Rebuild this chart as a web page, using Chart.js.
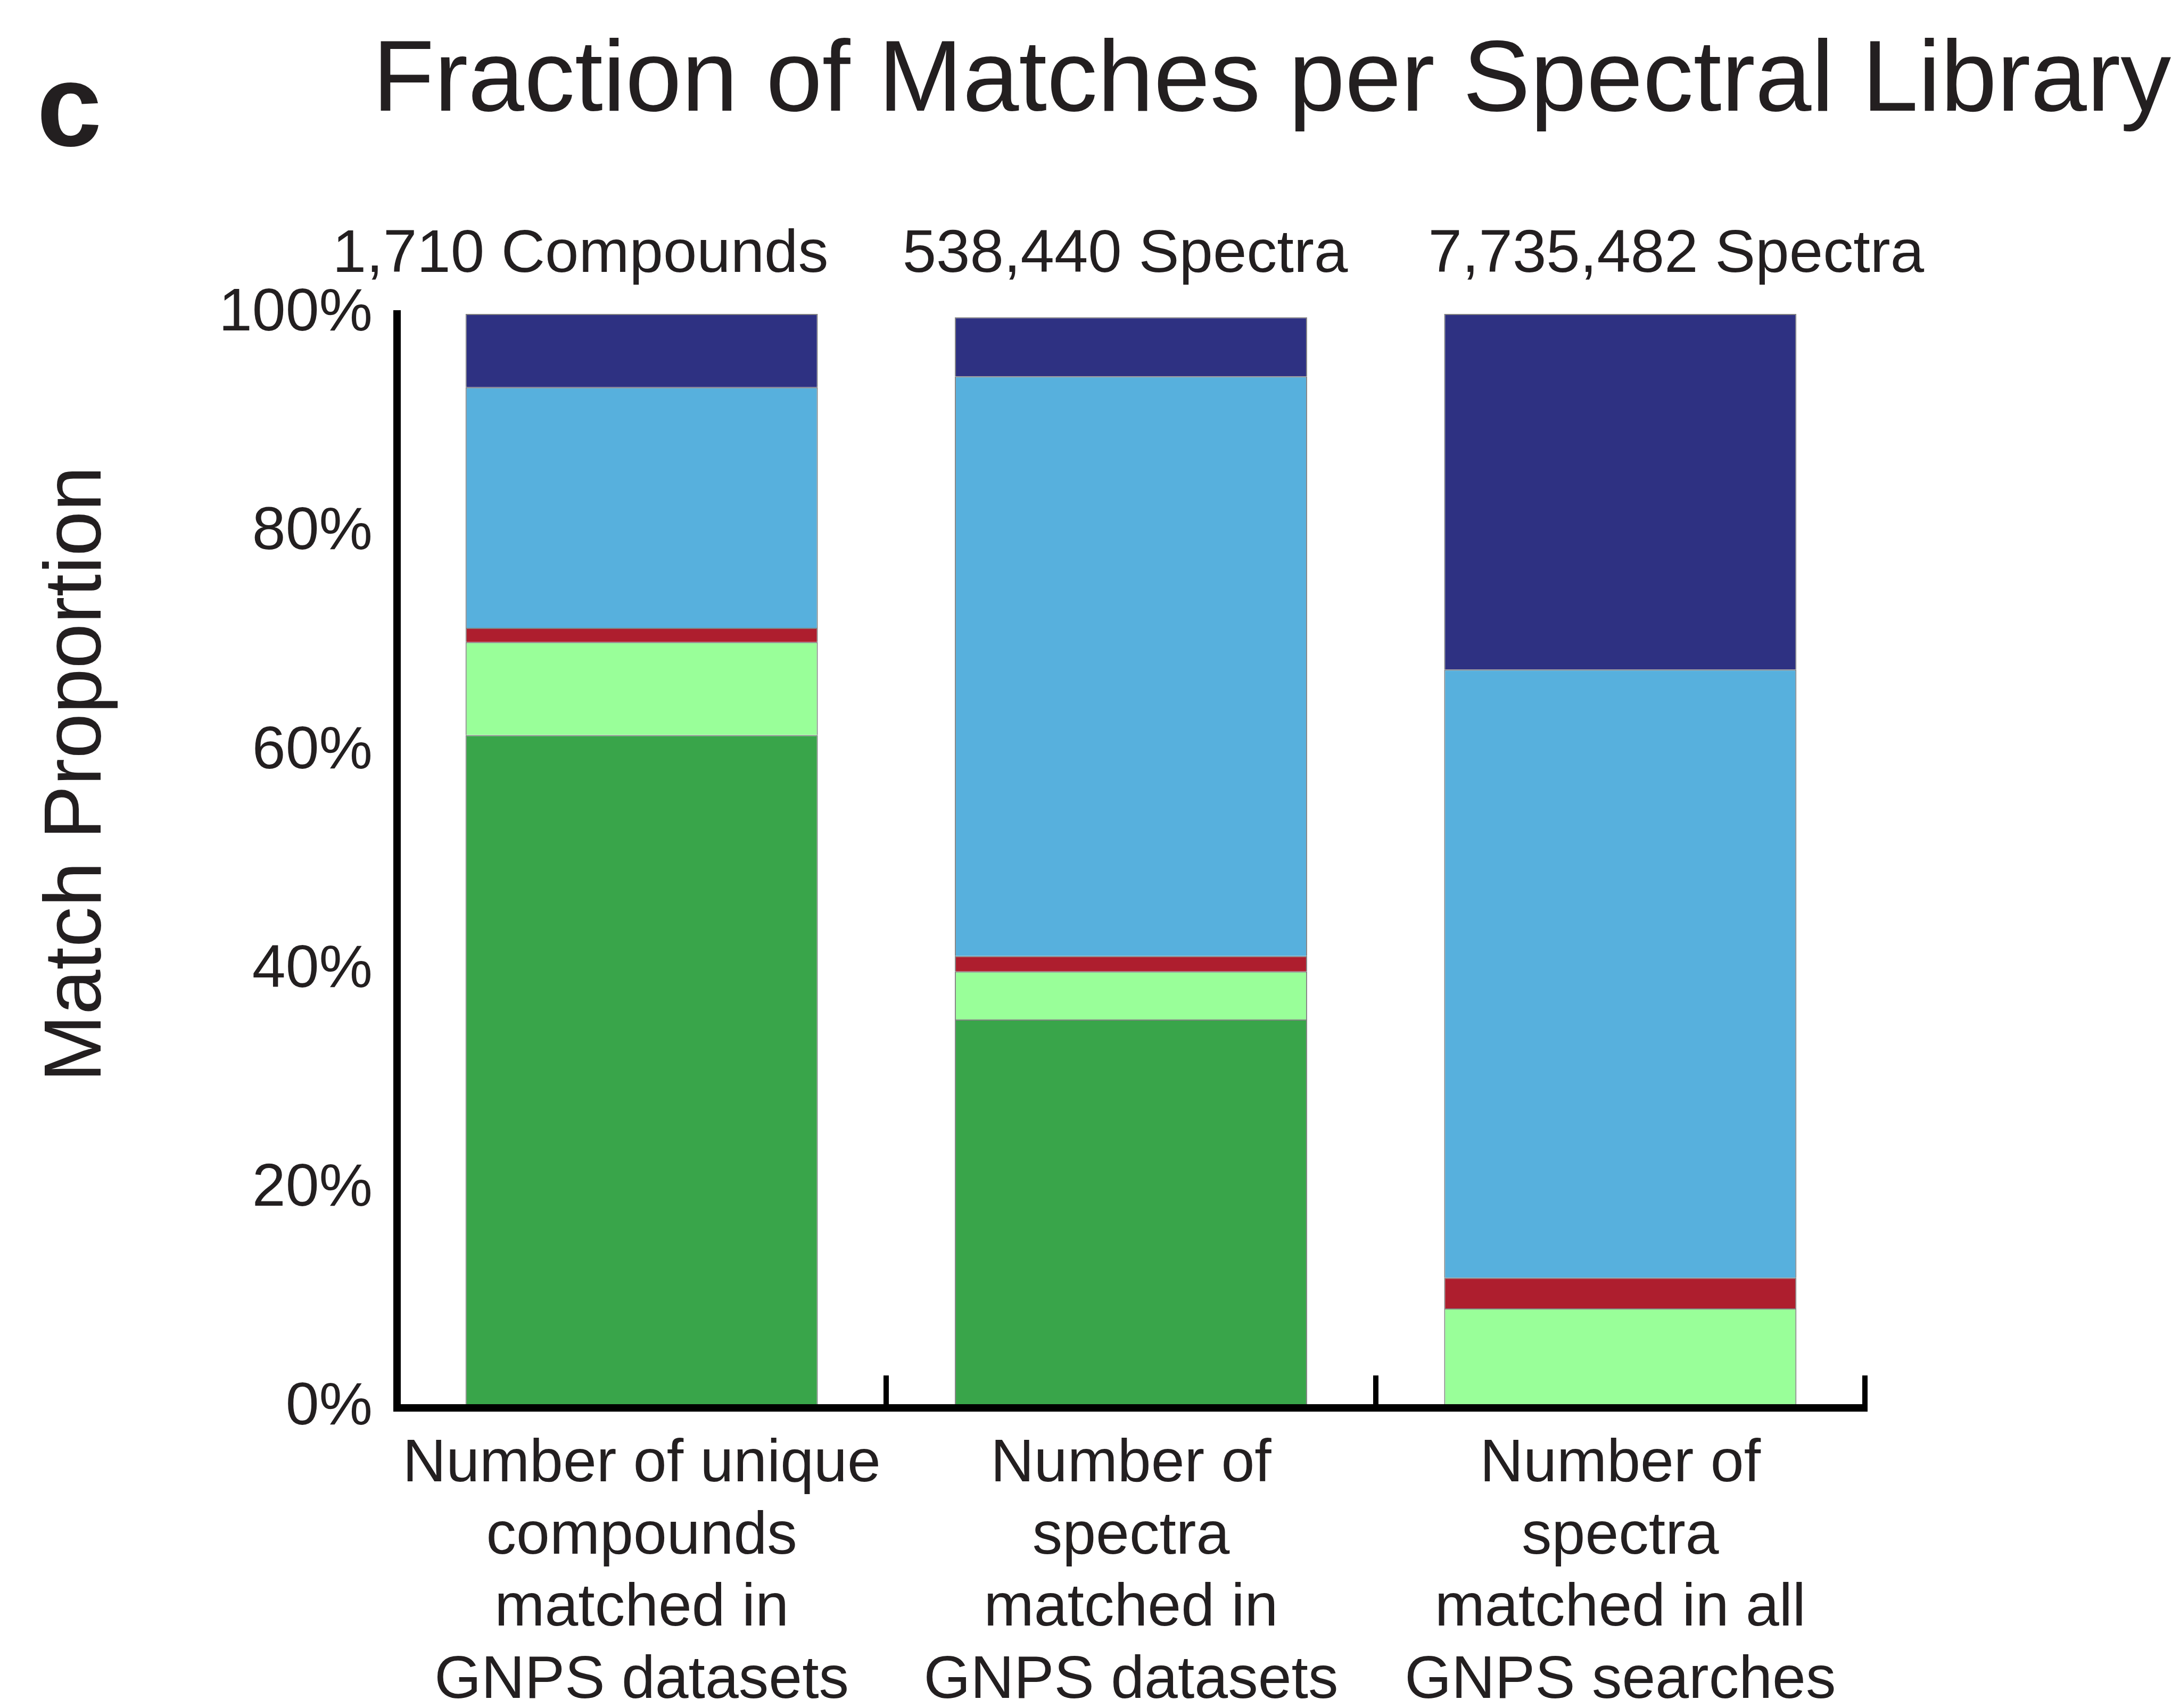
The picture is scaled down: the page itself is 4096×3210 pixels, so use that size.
<!DOCTYPE html>
<html>
<head>
<meta charset="utf-8">
<script src="https://cdn.jsdelivr.net/npm/chart.js@4.4.1/dist/chart.umd.min.js"></script>
<style>
  html, body { margin: 0; padding: 0; background: #ffffff; overflow: hidden; }
  canvas { display: block; }
</style>
</head>
<body>
<canvas id="chart" width="4096" height="3210"></canvas>
<script>
// Categories along the x axis (one stacked bar each)
const categories = [
  ['Number of unique', 'compounds', 'matched in', 'GNPS datasets'],
  ['Number of', 'spectra', 'matched in', 'GNPS datasets'],
  ['Number of', 'spectra', 'matched in all', 'GNPS searches']
];
// Size of each library, printed above its bar
const librarySizes = ['1,710 Compounds', '538,440 Spectra', '7,735,482 Spectra'];

// Share of matches (%) per segment, stacked bottom to top
const darkGreenShare  = [61.5, 35.5, 0.0];
const lightGreenShare = [8.5, 4.4, 9.1];
const redShare        = [1.3, 1.4, 2.8];
const lightBlueShare  = [22.0, 53.0, 55.6];
const navyShare       = [6.7, 5.4, 32.5];

// y axis tick values (%)
const yTicks = [0, 20, 40, 60, 80, 100];

const chartTitle = 'Fraction of Matches per Spectral Library';
const yTitle = 'Match Proportion';
const panelLetter = 'c';

const FONT = '"Liberation Sans", Arial, Helvetica, sans-serif';
const INK = '#231f20';

const segment = (label, data, color) => ({
  label, data,
  backgroundColor: color,
  borderColor: 'rgba(30,30,30,0.55)',
  borderWidth: 2,
  barPercentage: 0.72,
  categoryPercentage: 1.0
});

// Extra text: panel letter, title, library sizes and rotated y title
const annotations = {
  id: 'annotations',
  afterDraw(chart) {
    const ctx = chart.ctx;
    const x = chart.scales.x;
    ctx.save();
    ctx.fillStyle = INK;
    ctx.textBaseline = 'alphabetic';

    ctx.textAlign = 'left';
    ctx.font = 'bold 220px ' + FONT;
    ctx.fillText(panelLetter, 69, 274);

    ctx.font = '190px ' + FONT;
    ctx.fillText(chartTitle, 700, 208);

    ctx.textAlign = 'center';
    ctx.font = '114px ' + FONT;
    const shifts = [-115, -11, 105];
    librarySizes.forEach((t, i) => {
      ctx.fillText(t, x.getPixelForValue(i) + shifts[i], 511);
    });

    ctx.translate(189, 1455);
    ctx.rotate(-Math.PI / 2);
    ctx.font = '152px ' + FONT;
    ctx.fillText(yTitle, 0, 0);
    ctx.restore();
  }
};

new Chart(document.getElementById('chart'), {
  type: 'bar',
  data: {
    labels: categories,
    datasets: [
      segment('dark green', darkGreenShare, '#39a54a'),
      segment('light green', lightGreenShare, '#99ff99'),
      segment('red', redShare, '#ae1e2e'),
      segment('light blue', lightBlueShare, '#57b0dd'),
      segment('navy', navyShare, '#2e3182')
    ]
  },
  options: {
    responsive: false,
    devicePixelRatio: 1,
    animation: false,
    layout: { padding: { top: 590, right: 592, bottom: 0, left: 0 } },
    plugins: {
      legend: { display: false },
      title: { display: false },
      tooltip: { enabled: false }
    },
    scales: {
      x: {
        stacked: true,
        offset: true,
        grid: {
          display: true,
          offset: true,
          drawOnChartArea: false,
          drawTicks: true,
          tickLength: -61,
          lineWidth: 10,
          color: '#000000',
          z: 1
        },
        border: { display: true, width: 14, color: '#000000', z: 1 },
        ticks: {
          autoSkip: false,
          maxRotation: 0,
          minRotation: 0,
          padding: 100,
          color: INK,
          font: { family: FONT, size: 113, lineHeight: 1.2 }
        },
        afterFit(scale) { scale.height = 564; }
      },
      y: {
        stacked: true,
        min: 0,
        max: 100,
        grid: { display: false, drawTicks: false },
        border: { display: true, width: 14, color: '#000000' },
        afterBuildTicks(scale) { scale.ticks = yTicks.map(v => ({ value: v })); },
        ticks: {
          padding: 46,
          color: INK,
          font: { family: FONT, size: 113 },
          callback: v => v + '%'
        },
        afterFit(scale) { scale.width = 746; }
      }
    }
  },
  plugins: [annotations]
});
</script>
</body>
</html>
